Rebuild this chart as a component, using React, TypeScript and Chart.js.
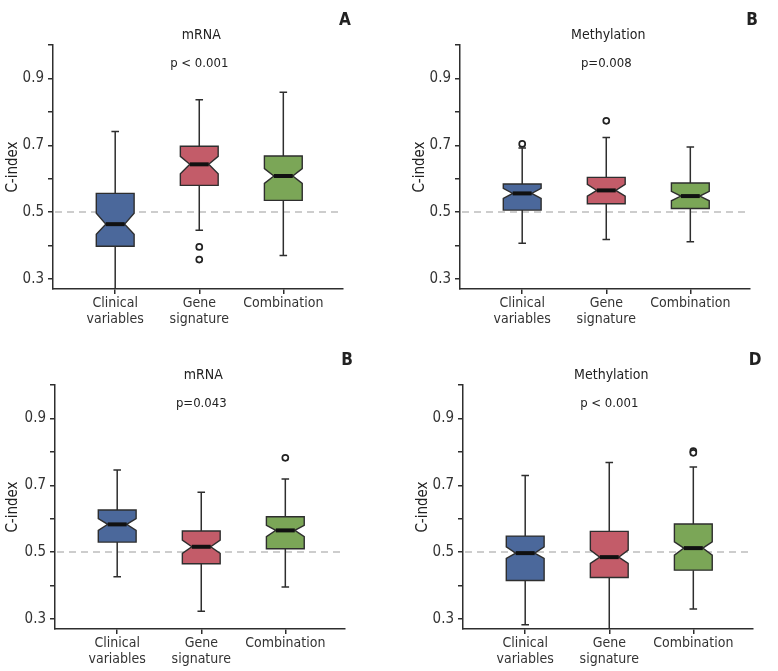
import React, { useEffect, useRef } from 'react';
import { Chart, registerables } from 'chart.js';

Chart.register(...registerables);

// ---------- data ----------
const categories: string[][] = [['Clinical', 'variables'], ['Gene', 'signature'], ['Combination']];
const yTickValues = [0.3, 0.4, 0.5, 0.6, 0.7, 0.8, 0.9, 1.0];
const yLabeledTicks = [0.3, 0.5, 0.7, 0.9];
const referenceLine = 0.5;
const boxColors = ['#4b689b', '#c35c69', '#7ba657'];

const panelTitles = ['mRNA', 'Methylation', 'mRNA', 'Methylation'];
const panelPValues = ['p < 0.001', 'p=0.008', 'p=0.043', 'p < 0.001'];
const panelLetters = ['A', 'B', 'B', 'D'];

// Panel A
const aLow = [0.27, 0.446, 0.37];
const aQ1 = [0.398, 0.58, 0.535];
const aNotchLo = [0.434, 0.615, 0.586];
const aMedian = [0.464, 0.643, 0.608];
const aNotchHi = [0.497, 0.667, 0.63];
const aQ3 = [0.556, 0.697, 0.668];
const aHigh = [0.741, 0.836, 0.859];
const aOutliers = [[], [0.396, 0.358], []];

// Panel B
const bLow = [0.407, 0.418, 0.411];
const bQ1 = [0.506, 0.525, 0.511];
const bNotchLo = [0.541, 0.548, 0.534];
const bMedian = [0.556, 0.565, 0.548];
const bNotchHi = [0.571, 0.583, 0.562];
const bQ3 = [0.584, 0.604, 0.587];
const bHigh = [0.692, 0.723, 0.695];
const bOutliers = [[0.704], [0.773], []];

// Panel C
const cLow = [0.426, 0.323, 0.396];
const cQ1 = [0.53, 0.465, 0.51];
const cNotchLo = [0.565, 0.496, 0.546];
const cMedian = [0.583, 0.516, 0.565];
const cNotchHi = [0.6, 0.536, 0.58];
const cQ3 = [0.626, 0.563, 0.606];
const cHigh = [0.746, 0.679, 0.719];
const cOutliers = [[], [], [0.782]];

// Panel D
const dLow = [0.283, 0.27, 0.33];
const dQ1 = [0.415, 0.424, 0.446];
const dNotchLo = [0.481, 0.466, 0.491];
const dMedian = [0.497, 0.485, 0.512];
const dNotchHi = [0.516, 0.506, 0.531];
const dQ3 = [0.548, 0.562, 0.584];
const dHigh = [0.729, 0.768, 0.755];
const dOutliers = [[], [], [0.802, 0.797]];

type Stats = {
  low: number[]; q1: number[]; notchLo: number[]; median: number[];
  notchHi: number[]; q3: number[]; high: number[]; outliers: number[][];
};

const panelStats: Stats[] = [
  { low: aLow, q1: aQ1, notchLo: aNotchLo, median: aMedian, notchHi: aNotchHi, q3: aQ3, high: aHigh, outliers: aOutliers },
  { low: bLow, q1: bQ1, notchLo: bNotchLo, median: bMedian, notchHi: bNotchHi, q3: bQ3, high: bHigh, outliers: bOutliers },
  { low: cLow, q1: cQ1, notchLo: cNotchLo, median: cMedian, notchHi: cNotchHi, q3: cQ3, high: cHigh, outliers: cOutliers },
  { low: dLow, q1: dQ1, notchLo: dNotchLo, median: dMedian, notchHi: dNotchHi, q3: dQ3, high: dHigh, outliers: dOutliers },
];

// ---------- layout (styles) ----------
const FONT = "'Liberation Sans Narrow', 'DejaVu Sans Condensed', 'Roboto', sans-serif";
const INK = '#2e2e2e';

type Layout = { left: number; top: number; width: number; height: number; padTop: number; padRight: number; yWidth: number; xHeight: number };
const layouts: Layout[] = [
  { left: 0, top: 0, width: 389, height: 335, padTop: 45, padRight: 46, yWidth: 53, xHeight: 46 },
  { left: 407, top: 0, width: 371, height: 335, padTop: 45, padRight: 28, yWidth: 53, xHeight: 46 },
  { left: 0, top: 336, width: 389, height: 335, padTop: 49, padRight: 44, yWidth: 55, xHeight: 42 },
  { left: 410, top: 336, width: 368, height: 335, padTop: 49, padRight: 25, yWidth: 53, xHeight: 42 },
];

const BOX_HALF = 0.225; // in x units
const CAP_HALF = 0.045;

function makePlugin(stats: Stats, idx: number) {
  return {
    id: 'notchedBoxes' + idx,
    beforeDatasetsDraw(chart: any) {
      const { ctx, chartArea } = chart;
      const x = chart.scales.x;
      const y = chart.scales.y;
      ctx.save();
      // reference dashed line
      const ry = y.getPixelForValue(referenceLine);
      ctx.strokeStyle = '#bdbdbd';
      ctx.lineWidth = 1.5;
      ctx.setLineDash([7, 5]);
      ctx.beginPath();
      ctx.moveTo(chartArea.left + 2, ry);
      ctx.lineTo(chartArea.right, ry);
      ctx.stroke();
      ctx.setLineDash([]);

      ctx.beginPath();
      ctx.rect(chartArea.left, chartArea.top, chartArea.right - chartArea.left, chartArea.bottom - chartArea.top);
      ctx.clip();

      stats.median.forEach((_, i) => {
        const cx = x.getPixelForValue(i + 1);
        const l = x.getPixelForValue(i + 1 - BOX_HALF);
        const r = x.getPixelForValue(i + 1 + BOX_HALF);
        const w = r - l;
        const capL = x.getPixelForValue(i + 1 - CAP_HALF);
        const capR = x.getPixelForValue(i + 1 + CAP_HALF);
        const pLow = y.getPixelForValue(stats.low[i]);
        const pQ1 = y.getPixelForValue(stats.q1[i]);
        const pNL = y.getPixelForValue(stats.notchLo[i]);
        const pMed = y.getPixelForValue(stats.median[i]);
        const pNH = y.getPixelForValue(stats.notchHi[i]);
        const pQ3 = y.getPixelForValue(stats.q3[i]);
        const pHigh = y.getPixelForValue(stats.high[i]);

        // whiskers
        ctx.strokeStyle = INK;
        ctx.lineWidth = 1.5;
        ctx.beginPath();
        ctx.moveTo(cx, pQ3); ctx.lineTo(cx, pHigh);
        ctx.moveTo(capL, pHigh); ctx.lineTo(capR, pHigh);
        ctx.moveTo(cx, pQ1); ctx.lineTo(cx, pLow);
        ctx.moveTo(capL, pLow); ctx.lineTo(capR, pLow);
        ctx.stroke();

        // notched box
        const ind = w / 4;
        ctx.beginPath();
        ctx.moveTo(l, pQ3);
        ctx.lineTo(r, pQ3);
        ctx.lineTo(r, pNH);
        ctx.lineTo(r - ind, pMed);
        ctx.lineTo(r, pNL);
        ctx.lineTo(r, pQ1);
        ctx.lineTo(l, pQ1);
        ctx.lineTo(l, pNL);
        ctx.lineTo(l + ind, pMed);
        ctx.lineTo(l, pNH);
        ctx.closePath();
        ctx.fillStyle = boxColors[i];
        ctx.fill();
        ctx.lineWidth = 1.4;
        ctx.strokeStyle = INK;
        ctx.stroke();

        // median
        ctx.strokeStyle = '#111';
        ctx.lineWidth = 4;
        ctx.beginPath();
        ctx.moveTo(l + ind, pMed);
        ctx.lineTo(r - ind, pMed);
        ctx.stroke();
      });
      ctx.restore();
    },
    afterDraw(chart: any) {
      const { ctx, chartArea } = chart;
      const x = chart.scales.x;
      const mid = x.getPixelForValue(2);
      ctx.save();
      ctx.fillStyle = '#222';
      ctx.textAlign = 'center';
      ctx.textBaseline = 'middle';
      ctx.font = `14px ${FONT}`;
      ctx.fillText(panelTitles[idx], mid + 2, chartArea.top - 10);
      ctx.font = `13px ${FONT}`;
      ctx.fillText(panelPValues[idx], mid, chartArea.top + 19);
      ctx.font = `bold 17px ${FONT}`;
      ctx.fillText(panelLetters[idx], chartArea.right + 2, chartArea.top - 24);
      ctx.restore();
    },
  };
}

function BoxPanel({ idx }: { idx: number }) {
  const ref = useRef<HTMLCanvasElement | null>(null);
  const lay = layouts[idx];
  useEffect(() => {
    if (!ref.current) return;
    const stats = panelStats[idx];
    const outlierPoints = stats.outliers.flatMap((arr, i) => arr.map((v) => ({ x: i + 1, y: v })));
    const chart = new Chart(ref.current, {
      type: 'scatter',
      data: {
        datasets: [
          {
            data: outlierPoints,
            pointRadius: 3,
            pointBorderWidth: 1.7,
            pointBackgroundColor: '#ffffff',
            pointBorderColor: '#222',
            pointStyle: 'circle',
          },
        ],
      },
      options: {
        animation: false,
        responsive: false,
        devicePixelRatio: 1,
        events: [],
        layout: { padding: { top: lay.padTop, right: lay.padRight, left: 0, bottom: 0 } },
        plugins: { legend: { display: false }, tooltip: { enabled: false }, title: { display: false } },
        scales: {
          x: {
            type: 'linear',
            min: 0.26,
            max: 3.71,
            afterBuildTicks: (s: any) => { s.ticks = categories.map((_, i) => ({ value: i + 1 })); },
            afterFit: (s: any) => { s.height = lay.xHeight; },
            ticks: {
              autoSkip: false,
              maxRotation: 0,
              padding: 2,
              color: '#333',
              font: { family: FONT, size: 14, lineHeight: 1.1 },
              callback: (v: any) => categories[Math.round(Number(v)) - 1] ?? '',
            },
            grid: { drawOnChartArea: false, drawTicks: true, tickLength: 5, color: INK, lineWidth: 1.5 },
            border: { display: true, color: INK, width: 1.5 },
          },
          y: {
            type: 'linear',
            min: 0.27,
            max: 1.0,
            afterBuildTicks: (s: any) => { s.ticks = yTickValues.map((v) => ({ value: v })); },
            afterFit: (s: any) => { s.width = lay.yWidth; },
            ticks: {
              autoSkip: false,
              padding: 4,
              color: '#333',
              font: { family: FONT, size: 15 },
              callback: (v: any) => (yLabeledTicks.some((t) => Math.abs(t - Number(v)) < 1e-6) ? Number(v).toFixed(1) : ''),
            },
            grid: { drawOnChartArea: false, drawTicks: true, tickLength: 5, color: INK, lineWidth: 1.5 },
            border: { display: true, color: INK, width: 1.5 },
            title: { display: true, text: 'C-index', color: '#222', font: { family: FONT, size: 15 }, padding: { top: 4, bottom: 0 } },
          },
        },
      } as any,
      plugins: [makePlugin(stats, idx)],
    });
    return () => chart.destroy();
  }, [idx]);
  return (
    <canvas
      ref={ref}
      width={lay.width}
      height={lay.height}
      style={{ position: 'absolute', left: lay.left, top: lay.top, width: lay.width, height: lay.height }}
    />
  );
}

export default function App() {
  return (
    <div style={{ position: 'absolute', left: 0, top: 0, width: 778, height: 671, background: '#fff', overflow: 'hidden' }}>
      {layouts.map((_, i) => (
        <BoxPanel key={i} idx={i} />
      ))}
    </div>
  );
}
